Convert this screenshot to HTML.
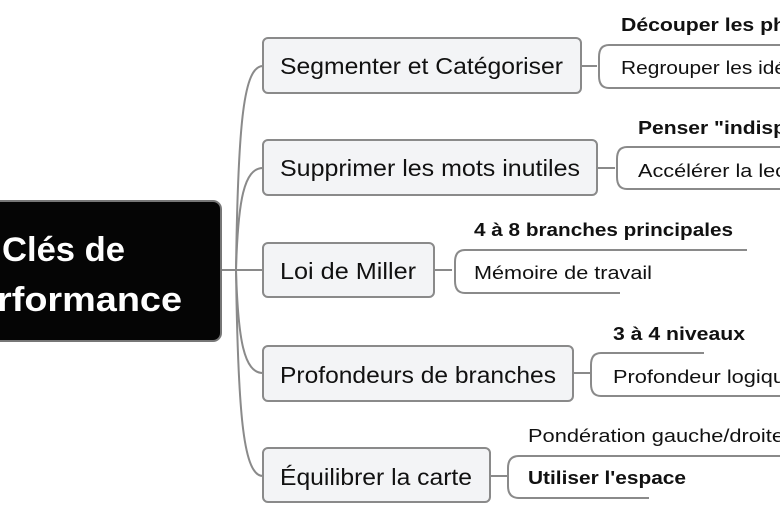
<!DOCTYPE html>
<html><head><meta charset="utf-8"><style>
html,body{margin:0;padding:0;background:#fff;width:780px;height:516px;overflow:hidden}
svg{display:block}
text{font-family:"Liberation Sans","DejaVu Sans",sans-serif;fill:#111}
.m{font-size:23px}
.s{font-size:18px}
.b{font-weight:bold}
</style></head><body>
<svg width="780" height="516" viewBox="0 0 780 516" xmlns="http://www.w3.org/2000/svg">
<g fill="none" stroke="#8a8a8a" stroke-width="2">
<path d="M221 270 L236 270"/>
<path d="M236 270 C238 120,244 66,263 66"/>
<path d="M236 270 C238 200,244 168,263 168"/>
<path d="M236 270 L263 270"/>
<path d="M236 270 C238 340,244 373,263 373"/>
<path d="M236 270 C238 420,244 476,263 476"/>
<path d="M581 66 L597 66"/>
<path d="M800 45 L609 45 Q599 45 599 57 L599 76 Q599 88 609 88 L800 88"/>
<path d="M597 168 L615 168"/>
<path d="M800 147 L627 147 Q617 147 617 159 L617 177 Q617 189 627 189 L800 189"/>
<path d="M434 270 L452 270"/>
<path d="M747 250 L465 250 Q455 250 455 262 L455 281 Q455 293 465 293 L620 293"/>
<path d="M573 373 L590 373"/>
<path d="M704 353 L601 353 Q591 353 591 365 L591 384 Q591 396 601 396 L800 396"/>
<path d="M490 476 L507 476"/>
<path d="M800 456 L519 456 Q508 456 508 468 L508 486 Q508 498 519 498 L649 498"/>
</g>
<rect x="-20" y="201" width="241" height="140" rx="8" fill="#050505" stroke="#777" stroke-width="2"/>
<text x="2" y="261" font-size="34" font-weight="bold" style="fill:#fff" textLength="123" lengthAdjust="spacingAndGlyphs">Clés de</text>
<text x="-3" y="311" font-size="34" font-weight="bold" style="fill:#fff" textLength="185" lengthAdjust="spacingAndGlyphs">rformance</text>
<g fill="#f3f4f6" stroke="#8a8a8a" stroke-width="2">
<rect x="263" y="38" width="318" height="55" rx="5"/>
<rect x="263" y="140" width="334" height="55" rx="5"/>
<rect x="263" y="243" width="171" height="54" rx="5"/>
<rect x="263" y="346" width="310" height="55" rx="5"/>
<rect x="263" y="448" width="227" height="54" rx="5"/>
</g>
<text class="m" x="280" y="74" textLength="283" lengthAdjust="spacingAndGlyphs">Segmenter et Catégoriser</text>
<text class="m" x="280" y="176" textLength="300" lengthAdjust="spacingAndGlyphs">Supprimer les mots inutiles</text>
<text class="m" x="280" y="279" textLength="136" lengthAdjust="spacingAndGlyphs">Loi de Miller</text>
<text class="m" x="280" y="383" textLength="276" lengthAdjust="spacingAndGlyphs">Profondeurs de branches</text>
<text class="m" x="280" y="485" textLength="192" lengthAdjust="spacingAndGlyphs">Équilibrer la carte</text>
<text class="s b" x="621" y="31" textLength="165" lengthAdjust="spacingAndGlyphs">Découper les ph</text>
<text class="s" x="621" y="74" textLength="165" lengthAdjust="spacingAndGlyphs">Regrouper les idé</text>
<text class="s b" x="638" y="134" textLength="148" lengthAdjust="spacingAndGlyphs">Penser "indisp</text>
<text class="s" x="638" y="177" textLength="148" lengthAdjust="spacingAndGlyphs">Accélérer la lec</text>
<text class="s b" x="474" y="236" textLength="259" lengthAdjust="spacingAndGlyphs">4 à 8 branches principales</text>
<text class="s" x="474" y="279" textLength="178" lengthAdjust="spacingAndGlyphs">Mémoire de travail</text>
<text class="s b" x="613" y="340" textLength="132" lengthAdjust="spacingAndGlyphs">3 à 4 niveaux</text>
<text class="s" x="613" y="383" textLength="172" lengthAdjust="spacingAndGlyphs">Profondeur logiqu</text>
<text class="s" x="528" y="442" textLength="256" lengthAdjust="spacingAndGlyphs">Pondération gauche/droite</text>
<text class="s b" x="528" y="484" textLength="158" lengthAdjust="spacingAndGlyphs">Utiliser l'espace</text>
</svg>
</body></html>
